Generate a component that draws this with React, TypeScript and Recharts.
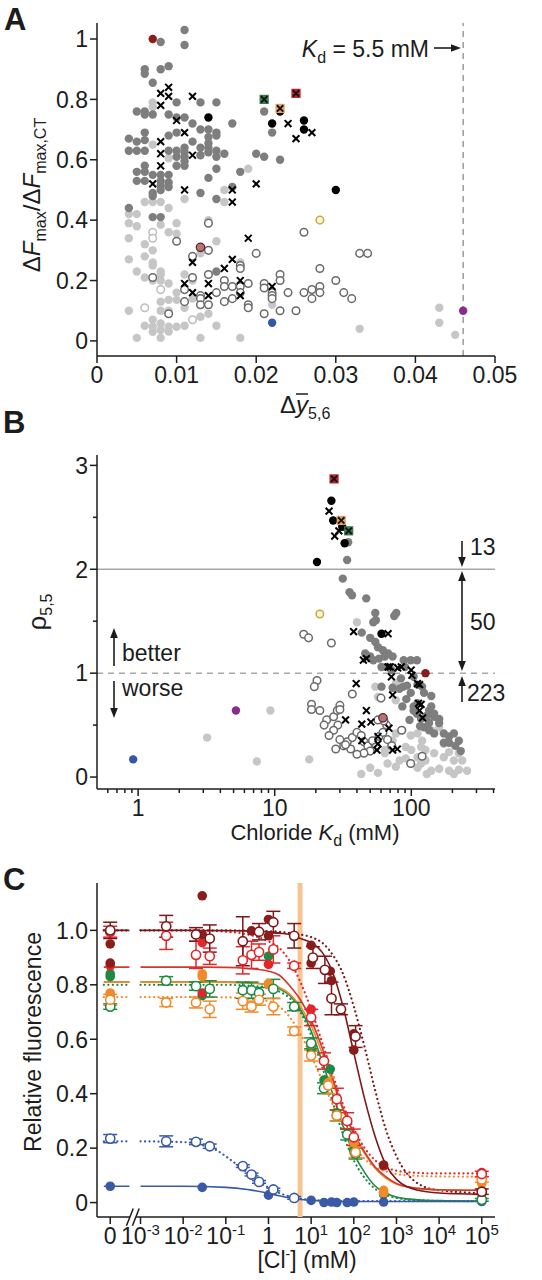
import React from 'react';
import {
  ScatterChart,
  ComposedChart,
  Scatter,
  Line,
  XAxis,
  YAxis,
  ReferenceLine,
  ErrorBar,
} from 'recharts';

// ---------- panel A: ΔFmax/ΔFmax,CT vs Δy(5,6) ----------
type XY = [number, number];

const A_DARK: XY[] = [
  [0.008, 0.99], [0.011, 1.03], [0.011, 0.98], [0.006, 0.9], [0.006, 0.885], [0.008, 0.9], [0.009, 0.91],
  [0.007, 0.855], [0.01, 0.79], [0.013, 0.79], [0.015, 0.79], [0.005, 0.76], [0.006, 0.76], [0.006, 0.75],
  [0.007, 0.75], [0.009, 0.75], [0.01, 0.74], [0.011, 0.74], [0.012, 0.72], [0.013, 0.7], [0.014, 0.7],
  [0.015, 0.69], [0.017, 0.72], [0.009, 0.68], [0.01, 0.69], [0.004, 0.67], [0.005, 0.66], [0.006, 0.69],
  [0.006, 0.665], [0.004, 0.63], [0.005, 0.63], [0.006, 0.63], [0.009, 0.63], [0.01, 0.63], [0.011, 0.64],
  [0.011, 0.625], [0.011, 0.61], [0.011, 0.595], [0.011, 0.58], [0.01, 0.61], [0.01, 0.58], [0.013, 0.615],
  [0.014, 0.675], [0.014, 0.655], [0.014, 0.64], [0.014, 0.625], [0.015, 0.63], [0.015, 0.68], [0.015, 0.61],
  [0.005, 0.56], [0.006, 0.58], [0.006, 0.56], [0.007, 0.55], [0.008, 0.55], [0.009, 0.55], [0.008, 0.53],
  [0.009, 0.525], [0.014, 0.54], [0.015, 0.57], [0.018, 0.56], [0.02, 0.62], [0.021, 0.76], [0.022, 0.69],
  [0.021, 0.61], [0.023, 0.6], [0.005, 0.53], [0.006, 0.53], [0.007, 0.49], [0.007, 0.48], [0.008, 0.515],
  [0.008, 0.5], [0.009, 0.51], [0.013, 0.49], [0.015, 0.47], [0.017, 0.51], [0.004, 0.44], [0.007, 0.41],
  [0.008, 0.41], [0.015, 0.23], [0.012, 0.66], [0.013, 0.64], [0.016, 0.62],
];
const A_LIGHT: XY[] = [
  [0.007, 0.79], [0.007, 0.775], [0.007, 0.65], [0.009, 0.605], [0.019, 0.57], [0.011, 0.47], [0.016, 0.46],
  [0.016, 0.5], [0.004, 0.42], [0.004, 0.39], [0.005, 0.42], [0.005, 0.38], [0.006, 0.46], [0.007, 0.46],
  [0.008, 0.46], [0.009, 0.44], [0.008, 0.385], [0.009, 0.36], [0.01, 0.39], [0.01, 0.355], [0.004, 0.34],
  [0.006, 0.32], [0.007, 0.3], [0.007, 0.26], [0.007, 0.25], [0.004, 0.27], [0.005, 0.23], [0.006, 0.28],
  [0.014, 0.4], [0.015, 0.33], [0.006, 0.21], [0.007, 0.2], [0.008, 0.23], [0.008, 0.22], [0.008, 0.2],
  [0.009, 0.19], [0.004, 0.1], [0.009, 0.136], [0.009, 0.1], [0.01, 0.16], [0.01, 0.136], [0.008, 0.13],
  [0.008, 0.1], [0.007, 0.07], [0.007, 0.047], [0.006, 0.05], [0.008, 0.058], [0.008, 0.036], [0.009, 0.047],
  [0.009, 0.031], [0.01, 0.047], [0.011, 0.05], [0.013, 0.08], [0.015, 0.05], [0.018, 0.01], [0.013, 0.01],
  [0.005, 0.01], [0.008, 0.01], [0.007, 0.03], [0.043, 0.11], [0.043, 0.06], [0.045, 0.02], [0.033, 0.04],
  [0.014, 0.09], [0.011, 0.11], [0.012, 0.14], [0.018, 0.26], [0.022, 0.12], [0.013, 0.29], [0.011, 0.22],
  [0.012, 0.2],
];
const A_OPEN: XY[] = [
  [0.01, 0.33], [0.014, 0.39], [0.014, 0.3], [0.012, 0.28], [0.02, 0.29], [0.018, 0.25], [0.018, 0.24],
  [0.026, 0.36], [0.028, 0.24], [0.033, 0.29], [0.034, 0.29], [0.03, 0.2], [0.028, 0.18], [0.028, 0.16],
  [0.027, 0.17], [0.027, 0.14], [0.026, 0.16], [0.024, 0.16], [0.023, 0.22], [0.023, 0.2], [0.022, 0.16],
  [0.022, 0.15], [0.022, 0.14], [0.021, 0.19], [0.021, 0.175], [0.023, 0.1], [0.025, 0.1], [0.021, 0.09],
  [0.031, 0.16], [0.032, 0.14], [0.019, 0.19], [0.019, 0.12], [0.019, 0.11], [0.018, 0.18], [0.018, 0.16],
  [0.017, 0.18], [0.017, 0.14], [0.016, 0.2], [0.016, 0.18], [0.016, 0.13], [0.015, 0.16], [0.014, 0.22],
  [0.014, 0.12], [0.011, 0.17], [0.012, 0.21], [0.011, 0.13], [0.013, 0.15], [0.013, 0.14], [0.013, 0.12],
  [0.007, 0.21], [0.009, 0.09],
];
const A_OPEN_LIGHT: XY[] = [[0.007, 0.36], [0.007, 0.34], [0.008, 0.17], [0.006, 0.11], [0.012, 0.07]];
const A_CROSS: XY[] = [
  [0.008, 0.82], [0.009, 0.84], [0.009, 0.81], [0.008, 0.78], [0.012, 0.81], [0.01, 0.73], [0.011, 0.69],
  [0.008, 0.66], [0.008, 0.62], [0.008, 0.58], [0.012, 0.615], [0.007, 0.52], [0.011, 0.5], [0.017, 0.5],
  [0.017, 0.46], [0.02, 0.52], [0.024, 0.72], [0.025, 0.67], [0.027, 0.69], [0.012, 0.26], [0.019, 0.34],
  [0.017, 0.27], [0.016, 0.24], [0.022, 0.18], [0.018, 0.2], [0.018, 0.15], [0.014, 0.19], [0.014, 0.15],
  [0.011, 0.19], [0.012, 0.16],
];
const A_BLACK: XY[] = [[0.014, 0.74], [0.022, 0.72], [0.026, 0.73], [0.026, 0.7], [0.03, 0.5], [0.023, 0.76]];
const A_DARKRED: XY[] = [[0.007, 1.0]];
const A_GREEN_X: XY[] = [[0.021, 0.8]];
const A_ORANGE_X: XY[] = [[0.023, 0.77]];
const A_RED_X: XY[] = [[0.025, 0.82]];
const A_BROWN: XY[] = [[0.013, 0.31]];
const A_YELLOW: XY[] = [[0.028, 0.4]];
const A_BLUE: XY[] = [[0.022, 0.06]];
const A_PURPLE: XY[] = [[0.046, 0.1]];
const A_XTICKS = [0, 0.01, 0.02, 0.03, 0.04, 0.05];
const A_YTICKS = [0, 0.2, 0.4, 0.6, 0.8, 1];
const A_KD_LINE = 0.046;

// ---------- panel B: ρ(5,5) vs chloride Kd ----------
const B_DARK: XY[] = [
  [34.5, 2.26], [33.9, 2.09], [31.5, 1.91], [35.3, 1.78], [36.8, 1.75], [46.8, 1.72], [54.5, 1.58],
  [52.7, 1.49], [55, 1.51], [77.6, 1.58], [75, 1.55], [43.4, 1.39], [50, 1.34], [54.5, 1.3], [57, 1.25],
  [62, 1.22], [46, 1.19], [50, 1.16], [52.7, 1.125], [58, 1.14], [64, 1.16], [67.6, 1.19], [73, 1.16],
  [60.5, 1.06], [66, 1.06], [71.5, 1.03], [88, 1.125], [90, 1.06], [99, 1.125], [110, 1.125], [104, 0.965],
  [60.5, 0.87], [73, 0.86], [82, 0.85], [87, 0.87], [93, 0.88], [99, 0.81], [111, 0.89], [120, 0.87],
  [124, 0.81], [140, 0.78], [140, 0.68], [147, 0.61], [160, 0.56], [135, 0.52], [111, 0.71], [104, 0.64],
  [97, 0.55], [124, 0.48], [147, 0.42], [173, 0.42], [189, 0.39], [205, 0.42], [223, 0.35], [230, 0.25],
  [210, 0.3], [189, 0.33], [173, 0.33], [104, 0.68], [110, 0.61], [118, 0.56], [130, 0.59], [135, 0.64],
  [147, 0.58], [160, 0.52], [135, 0.45], [116, 0.49], [84, 0.95], [92, 0.75], [86, 0.68],
];
const B_LIGHT: XY[] = [
  [40, 1.49], [54.5, 0.87], [77, 0.9], [57, 0.77], [77, 0.74], [91, 0.29], [100, 0.26], [111, 0.19],
  [118, 0.13], [127, 0.16], [147, 0.23], [173, 0.19], [189, 0.24], [205, 0.16], [223, 0.23], [236, 0.16],
  [256, 0.06], [223, 0.07], [205, 0.03], [189, 0.06], [160, 0.08], [140, 0.06], [130, 0.03], [111, 0.09],
  [99, 0.13], [91, 0.18], [82, 0.16], [77, 0.1], [67, 0.13], [57, 0.04], [50, 0.09], [43, 0.03], [64, 0.23],
  [71, 0.29], [64, 0.26], [73, 0.35], [77, 0.42], [86, 0.45], [99, 0.4], [111, 0.42], [120, 0.35], [140, 0.45],
  [160, 0.48], [127, 0.26], [118, 0.29], [173, 0.32], [3.2, 0.38], [9.3, 0.64], [7.4, 0.15], [17.9, 0.17],
];
const B_OPEN: XY[] = [
  [16.3, 1.375], [17.7, 1.34], [26, 1.29], [20.4, 0.93], [19.5, 0.87], [37, 0.8], [18.6, 0.7], [18.6, 0.65],
  [21.4, 0.64], [24, 0.55], [23, 0.5], [27, 0.58], [28.7, 0.64], [30, 0.69], [30, 0.65], [29, 0.5], [27, 0.45],
  [25, 0.4], [30, 0.36], [34, 0.34], [32, 0.3], [28, 0.27], [37, 0.38], [40, 0.43], [43, 0.4], [45, 0.34],
  [48, 0.3], [52, 0.35], [55, 0.29], [50, 0.25], [45, 0.23], [40, 0.22], [36, 0.27], [33, 0.31], [58, 0.39],
  [62, 0.43], [67, 0.36], [72, 0.3], [66, 0.5], [60, 0.76], [63, 0.54], [57, 0.55], [85, 0.45], [99, 0.13],
  [120, 0.2], [74, 1.05],
];
const B_CROSS: XY[] = [
  [25, 2.56], [29.5, 2.37], [27.5, 2.32], [37.8, 1.4], [67.6, 1.38], [44.6, 1.125], [46.9, 1.14], [67.6, 1.06],
  [70, 1.06], [71.5, 0.965], [79.5, 1.05], [84.5, 1.06], [99.7, 1.03], [101, 0.98], [111, 0.9], [115, 0.89],
  [39.5, 0.9], [73, 0.79], [113, 0.71], [118, 0.7], [115, 0.64], [121, 0.57], [46.9, 0.64], [33, 0.55],
  [43.4, 0.51], [50.6, 0.53], [68.6, 0.47], [43.4, 0.35], [57, 0.39], [57, 0.32], [56, 0.26], [73, 0.26],
  [79, 0.27],
];
const B_BLACK: XY[] = [[26, 2.66], [26.8, 2.47], [31.2, 2.41], [32.5, 2.25], [20.4, 2.07], [60.5, 1.38]];
const B_RED_X: XY[] = [[27.2, 2.87]];
const B_ORANGE_X: XY[] = [[30.7, 2.47]];
const B_GREEN_X: XY[] = [[34.8, 2.37]];
const B_DARKRED: XY[] = [[127, 1.0]];
const B_BROWN: XY[] = [[62, 0.57]];
const B_YELLOW: XY[] = [[21.4, 1.57]];
const B_BLUE: XY[] = [[0.92, 0.17]];
const B_PURPLE: XY[] = [[5.2, 0.64]];
const B_XTICKS = [0.6, 0.7, 0.8, 0.9, 1, 2, 3, 4, 5, 6, 7, 8, 9, 10, 20, 30, 40, 50, 60, 70, 80, 90, 100, 200, 300, 400];
const B_YTICKS = [0, 0.5, 1, 1.5, 2, 2.5, 3];

// ---------- panel C: relative fluorescence vs [Cl-] (mM) ----------
type CP = [number, number, number?];
const C_DARKRED_F: CP[] = [
  [0, 1.0], [0, 0.95], [0, 0.88], [0.028, 1.127], [0.028, 0.985], [0.4, 0.998], [1, 1.04], [1, 0.98],
  [10, 0.945], [10, 0.88], [28, 0.85], [30, 0.815], [100, 0.62], [100, 0.56], [500, 0.138], [100000, 0.035],
];
const C_DARKRED_O: CP[] = [
  [0, 1.0, 0.03], [0.004, 1.015, 0.04], [0.02, 0.985, 0.025], [0.042, 0.97, 0.05], [0.25, 0.96, 0.09],
  [0.6, 0.995, 0.03], [1.3, 1.03, 0.04], [4, 0.98, 0.045], [11, 0.9, 0.04], [21, 0.855, 0.05],
  [30, 0.75, 0.06], [50, 0.71, 0.02], [110, 0.61, 0.04], [100000, 0.04, 0.01],
];
const C_RED_F: CP[] = [
  [0, 0.87], [0.028, 0.955], [0.028, 0.77], [1, 0.875], [10, 0.71], [500, 0.135], [100000, 0.11],
];
const C_RED_O: CP[] = [
  [0, 0.995, 0.02], [0.004, 0.98, 0.05], [0.02, 0.91, 0.05], [0.042, 0.905, 0.03], [0.25, 0.89, 0.05],
  [0.4, 0.91, 0.05], [0.6, 0.92, 0.03], [1.3, 0.93, 0.05], [4, 0.87, 0.01], [10, 0.68, 0.03],
  [20, 0.52, 0.03], [40, 0.38, 0.04], [70, 0.3, 0.03], [100, 0.24, 0.03], [100000, 0.105, 0.01],
];
const C_ORANGE_F: CP[] = [
  [0, 0.77], [0, 0.76], [0.028, 0.84], [0.028, 0.83], [1, 0.805], [1, 0.8], [10, 0.58], [25, 0.44],
  [100, 0.23], [100, 0.22], [500, 0.045], [500, 0.035], [100000, 0.09], [100000, 0.08], [100000, 0.07],
];
const C_ORANGE_O: CP[] = [
  [0, 0.745, 0.02], [0.004, 0.735, 0.015], [0.02, 0.735, 0.02], [0.042, 0.71, 0.03], [0.25, 0.74, 0.03],
  [0.4, 0.72, 0.02], [0.6, 0.745, 0.02], [1.3, 0.72, 0.03], [4, 0.63, 0.015], [10, 0.54, 0.02],
  [25, 0.43, 0.03], [40, 0.32, 0.02], [110, 0.185, 0.02], [100000, 0.085, 0.01],
];
const C_GREEN_F: CP[] = [
  [0, 0.84], [0, 0.83], [0.028, 0.76], [1, 0.905], [10, 0.573], [10, 0.56], [20, 0.45], [28, 0.49],
  [40, 0.33], [100, 0.19], [500, 0.03], [100000, 0.015],
];
const C_GREEN_O: CP[] = [
  [0, 0.72, 0.01], [0.004, 0.815, 0.015], [0.02, 0.795, 0.015], [0.042, 0.785, 0.03], [0.25, 0.78, 0.03],
  [0.4, 0.78, 0.03], [0.6, 0.77, 0.02], [1.3, 0.785, 0.035], [4, 0.72, 0.015], [10, 0.585, 0.02],
  [20, 0.42, 0.02], [40, 0.32, 0.02], [70, 0.25, 0.02], [110, 0.18, 0.02], [100000, 0.01, 0.005],
];
const C_BLUE_F: CP[] = [
  [0, 0.06], [0.028, 0.056], [1, 0.027], [10, 0.008], [20, 0.0], [30, 0.002], [40, 0.0], [70, 0.0],
  [100, 0.002], [500, 0.002], [100000, 0.004],
];
const C_BLUE_O: CP[] = [
  [0, 0.235, 0.015], [0.004, 0.225, 0.02], [0.02, 0.223, 0.01], [0.042, 0.207, 0.008], [0.25, 0.134, 0.005],
  [0.4, 0.103, 0.005], [0.6, 0.076, 0.005], [1.3, 0.048, 0.005], [4, 0.017, 0.005],
];

// fitted curves at these chloride concentrations
const CURVE_CL = [0.001, 0.01, 0.1, 0.32, 1, 1.8, 3.2, 5.6, 10, 18, 32, 56, 100, 180, 320, 560, 1000, 3200, 10000, 100000];
const FIT_DARKRED = [1.0, 1.0, 0.999, 0.998, 0.995, 0.99, 0.985, 0.97, 0.955, 0.92, 0.845, 0.72, 0.55, 0.38, 0.24, 0.14, 0.085, 0.045, 0.035, 0.03];
const FIT_DARKRED_DOT = [1.0, 1.0, 1.0, 0.999, 0.997, 0.995, 0.99, 0.985, 0.975, 0.955, 0.91, 0.84, 0.72, 0.57, 0.41, 0.27, 0.17, 0.07, 0.045, 0.035];
const FIT_RED = [0.865, 0.865, 0.864, 0.86, 0.85, 0.835, 0.795, 0.745, 0.67, 0.57, 0.455, 0.345, 0.255, 0.185, 0.13, 0.095, 0.07, 0.052, 0.047, 0.045];
const FIT_RED_DOT = [1.0, 1.0, 0.995, 0.985, 0.96, 0.935, 0.885, 0.81, 0.71, 0.59, 0.47, 0.36, 0.27, 0.2, 0.155, 0.13, 0.117, 0.109, 0.107, 0.107];
const FIT_ORANGE = [0.81, 0.81, 0.81, 0.808, 0.8, 0.79, 0.765, 0.72, 0.65, 0.55, 0.44, 0.34, 0.25, 0.18, 0.125, 0.09, 0.068, 0.052, 0.047, 0.045];
const FIT_ORANGE_DOT = [0.755, 0.755, 0.754, 0.75, 0.74, 0.72, 0.68, 0.62, 0.54, 0.45, 0.36, 0.28, 0.21, 0.16, 0.13, 0.115, 0.105, 0.098, 0.096, 0.095];
const FIT_GREEN = [0.81, 0.81, 0.81, 0.807, 0.8, 0.785, 0.76, 0.71, 0.63, 0.52, 0.4, 0.28, 0.18, 0.11, 0.06, 0.035, 0.02, 0.01, 0.007, 0.005];
const FIT_GREEN_DOT = [0.8, 0.8, 0.8, 0.797, 0.79, 0.775, 0.75, 0.7, 0.615, 0.5, 0.37, 0.25, 0.155, 0.09, 0.05, 0.028, 0.017, 0.009, 0.006, 0.005];
const FIT_BLUE = [0.06, 0.06, 0.056, 0.048, 0.034, 0.025, 0.017, 0.011, 0.008, 0.006, 0.005, 0.004, 0.004, 0.004, 0.004, 0.004, 0.004, 0.004, 0.004, 0.004];
const BLUE_DOT_CL = [0.001, 0.01, 0.03, 0.056, 0.1, 0.18, 0.32, 0.56, 1, 1.8, 3.2, 10, 100, 100000];
const FIT_BLUE_DOT = [0.225, 0.222, 0.21, 0.195, 0.17, 0.14, 0.11, 0.08, 0.055, 0.035, 0.022, 0.01, 0.005, 0.005];
const C_XTICKS = [0, 0.001, 0.01, 0.1, 1, 10, 100, 1000, 10000, 100000];
const C_YTICKS = [0, 0.2, 0.4, 0.6, 0.8, 1.0];
const KD_CL = 5.5;

// ---------- drawing helpers ----------
const FONT = '"Liberation Sans", Arial, Helvetica, sans-serif';
const INK = '#1c1c1c';
const DARK = '#7e7e7e';
const LIGHT = '#c6c6c6';
const DKRED = '#7d1719';
const RED = '#e3262b';
const ORANGE = '#f08a2a';
const GREEN = '#1f8a45';
const BLUE = '#3a5aa6';
const ZERO_POS = -3.71; // where "0 mM" sits on the broken log axis

const xy = (a: XY[]) => a.map(([x, y]) => ({ x, y }));
const xPos = (c: number) => (c === 0 ? ZERO_POS : Math.log10(c));
const cpts = (a: CP[]) => a.map(([c, y, e]) => ({ x: xPos(c), y, e: e ?? 0 }));
const curve = (cl: number[], vals: number[]) => [
  { x: ZERO_POS - 0.15, y: vals[0] },
  { x: ZERO_POS + 0.45, y: vals[0] },
  { x: -3.1, y: null },
  ...cl.map((c, i) => ({ x: Math.log10(c), y: vals[i] })),
];

const dot = (fill: string, stroke = 'none', r = 4.2, sw = 1.3) => (p: any) => (
  <circle cx={p.cx} cy={p.cy} r={r} fill={fill} stroke={stroke} strokeWidth={sw} />
);
const cross = (p: any) => {
  const s = 3.4;
  return (
    <g stroke="#000" strokeWidth={2}>
      <line x1={p.cx - s} y1={p.cy - s} x2={p.cx + s} y2={p.cy + s} />
      <line x1={p.cx - s} y1={p.cy + s} x2={p.cx + s} y2={p.cy - s} />
    </g>
  );
};
const boxCross = (fill: string) => (p: any) => {
  const s = 3.2;
  return (
    <g>
      <rect x={p.cx - 4.6} y={p.cy - 4.6} width={9.2} height={9.2} fill={fill} />
      <g stroke="#111" strokeWidth={1.8}>
        <line x1={p.cx - s} y1={p.cy - s} x2={p.cx + s} y2={p.cy + s} />
        <line x1={p.cx - s} y1={p.cy + s} x2={p.cx + s} y2={p.cy - s} />
      </g>
    </g>
  );
};

const fmtDec = (v: number) => (v === 0 ? '0' : v === 1 ? '1' : String(v));

const leftTick = (fmt: (v: number) => string, isMinor: (v: number) => boolean = () => false) => (props: any) => {
  const { x, y, payload } = props;
  const minor = isMinor(payload.value);
  return (
    <g>
      <line x1={x - (minor ? 4 : 7)} x2={x} y1={y} y2={y} stroke={INK} strokeWidth={1.5} />
      {!minor && (
        <text x={x - 9} y={y} dy="0.36em" textAnchor="end" fontSize={23} fontFamily={FONT} fill={INK}>
          {fmt(payload.value)}
        </text>
      )}
    </g>
  );
};

const bottomTick = (fmt: (v: number) => React.ReactNode, isMinor: (v: number) => boolean = () => false) => (props: any) => {
  const { x, y, payload } = props;
  const minor = isMinor(payload.value);
  return (
    <g>
      <line x1={x} x2={x} y1={y} y2={y + (minor ? 4 : 7)} stroke={INK} strokeWidth={1.5} />
      {!minor && (
        <text x={x} y={y + 27} textAnchor="middle" fontSize={23} fontFamily={FONT} fill={INK}>
          {fmt(payload.value)}
        </text>
      )}
    </g>
  );
};

const cTickLabel = (v: number) => {
  const p = xPos(v);
  if (v === 0) return '0';
  if (p === 0) return '1';
  return (
    <>
      10
      <tspan dy={-9} fontSize={15}>{p < 0 ? '-' + String(-p) : String(p)}</tspan>
    </>
  );
};

const Arrow = ({ x1, y1, x2, y2 }: { x1: number; y1: number; x2: number; y2: number }) => {
  const dx = x2 - x1;
  const dy = y2 - y1;
  const L = Math.hypot(dx, dy);
  const ux = dx / L;
  const uy = dy / L;
  const bx = x2 - ux * 10;
  const by = y2 - uy * 10;
  const w = 3.8;
  return (
    <g>
      <line x1={x1} y1={y1} x2={bx} y2={by} stroke={INK} strokeWidth={1.6} />
      <polygon points={`${x2},${y2} ${bx - uy * w},${by + ux * w} ${bx + uy * w},${by - ux * w}`} fill={INK} />
    </g>
  );
};

const axisStyle = { stroke: INK, strokeWidth: 1.5 };

function PanelA() {
  return (
    <ScatterChart width={542} height={396} margin={{ top: 23, right: 47, bottom: 0, left: 0 }}>
      <XAxis
        type="number"
        dataKey="x"
        domain={[0, 0.05]}
        allowDataOverflow
        ticks={A_XTICKS}
        interval={0}
        height={40}
        tickSize={0}
        tickMargin={0}
        axisLine={axisStyle}
        tickLine={false}
        tick={bottomTick((v) => (v === 0 ? '0' : v.toFixed(2)))}
      />
      <YAxis
        type="number"
        dataKey="y"
        domain={[-0.05, 1.053]}
        allowDataOverflow
        ticks={A_YTICKS}
        interval={0}
        width={97}
        tickSize={0}
        tickMargin={0}
        axisLine={axisStyle}
        tickLine={false}
        tick={leftTick(fmtDec)}
      />
      <ReferenceLine x={A_KD_LINE} stroke="#9a9a9a" strokeWidth={1.5} strokeDasharray="6 5" />
      <Scatter data={xy(A_LIGHT)} shape={dot(LIGHT)} isAnimationActive={false} />
      <Scatter data={xy(A_OPEN_LIGHT)} shape={dot('#fff', '#bdbdbd', 3.8, 1.5)} isAnimationActive={false} />
      <Scatter data={xy(A_OPEN)} shape={dot('#fff', '#6a6a6a', 3.8, 1.5)} isAnimationActive={false} />
      <Scatter data={xy(A_DARK)} shape={dot(DARK)} isAnimationActive={false} />
      <Scatter data={xy(A_BLACK)} shape={dot('#000')} isAnimationActive={false} />
      <Scatter data={xy(A_CROSS)} shape={cross} isAnimationActive={false} />
      <Scatter data={xy(A_DARKRED)} shape={dot('#8a1c1c')} isAnimationActive={false} />
      <Scatter data={xy(A_BROWN)} shape={dot('#b87474', '#5a2a2a', 4.2, 1.3)} isAnimationActive={false} />
      <Scatter data={xy(A_YELLOW)} shape={dot('#fbf6d8', '#c9a73c', 3.8, 1.5)} isAnimationActive={false} />
      <Scatter data={xy(A_BLUE)} shape={dot('#3457a5')} isAnimationActive={false} />
      <Scatter data={xy(A_PURPLE)} shape={dot('#8c2a8c')} isAnimationActive={false} />
      <Scatter data={xy(A_GREEN_X)} shape={boxCross('#3a7a4c')} isAnimationActive={false} />
      <Scatter data={xy(A_ORANGE_X)} shape={boxCross('#e6a263')} isAnimationActive={false} />
      <Scatter data={xy(A_RED_X)} shape={boxCross('#b3272b')} isAnimationActive={false} />
    </ScatterChart>
  );
}

function PanelB() {
  return (
    <ScatterChart width={542} height={397} margin={{ top: 23, right: 47, bottom: 0, left: 0 }}>
      <XAxis
        type="number"
        dataKey="x"
        scale="log"
        domain={[0.5, 410]}
        allowDataOverflow
        ticks={B_XTICKS}
        interval={0}
        height={40}
        tickSize={0}
        tickMargin={0}
        axisLine={axisStyle}
        tickLine={false}
        tick={bottomTick((v) => String(v), (v) => ![1, 10, 100].includes(v))}
      />
      <YAxis
        type="number"
        dataKey="y"
        domain={[-0.115, 3.1]}
        allowDataOverflow
        ticks={B_YTICKS}
        interval={0}
        width={97}
        tickSize={0}
        tickMargin={0}
        axisLine={axisStyle}
        tickLine={false}
        tick={leftTick((v) => String(v), (v) => !Number.isInteger(v))}
      />
      <ReferenceLine y={2} stroke="#a8a8a8" strokeWidth={1.5} />
      <ReferenceLine y={1} stroke="#a8a8a8" strokeWidth={1.5} strokeDasharray="6 5" />
      <Scatter data={xy(B_LIGHT)} shape={dot(LIGHT)} isAnimationActive={false} />
      <Scatter data={xy(B_OPEN)} shape={dot('#fff', '#6a6a6a', 3.8, 1.5)} isAnimationActive={false} />
      <Scatter data={xy(B_DARK)} shape={dot(DARK)} isAnimationActive={false} />
      <Scatter data={xy(B_BLACK)} shape={dot('#000')} isAnimationActive={false} />
      <Scatter data={xy(B_CROSS)} shape={cross} isAnimationActive={false} />
      <Scatter data={xy(B_DARKRED)} shape={dot('#8a1c1c')} isAnimationActive={false} />
      <Scatter data={xy(B_BROWN)} shape={dot('#b87474', '#5a2a2a', 4.2, 1.3)} isAnimationActive={false} />
      <Scatter data={xy(B_YELLOW)} shape={dot('#fbf6d8', '#c9a73c', 3.8, 1.5)} isAnimationActive={false} />
      <Scatter data={xy(B_BLUE)} shape={dot('#3457a5')} isAnimationActive={false} />
      <Scatter data={xy(B_PURPLE)} shape={dot('#8c2a8c')} isAnimationActive={false} />
      <Scatter data={xy(B_GREEN_X)} shape={boxCross('#3a7a4c')} isAnimationActive={false} />
      <Scatter data={xy(B_ORANGE_X)} shape={boxCross('#e6a263')} isAnimationActive={false} />
      <Scatter data={xy(B_RED_X)} shape={boxCross('#b3272b')} isAnimationActive={false} />
    </ScatterChart>
  );
}

const fitLine = (data: any[], color: string, dotted: boolean) => (
  <Line
    data={data}
    dataKey="y"
    type="monotone"
    stroke={color}
    strokeWidth={dotted ? 2.2 : 1.6}
    strokeDasharray={dotted ? '0.1 4.4' : undefined}
    strokeLinecap={dotted ? 'round' : 'butt'}
    dot={false}
    activeDot={false}
    connectNulls={false}
    isAnimationActive={false}
  />
);

const openSeries = (data: CP[], color: string) => (
  <Scatter data={cpts(data)} dataKey="y" shape={dot('#fff', color, 4.6, 1.6)} isAnimationActive={false}>
    <ErrorBar dataKey="e" direction="y" width={7} stroke={color} strokeWidth={1.5} />
  </Scatter>
);
const filledSeries = (data: CP[], color: string) => (
  <Scatter data={cpts(data)} dataKey="y" shape={dot(color, 'none', 4.8)} isAnimationActive={false} />
);

function PanelC() {
  const yAxisBottom = -0.053;
  return (
    <ComposedChart width={542} height={402} margin={{ top: 23, right: 47, bottom: 0, left: 0 }}>
      <XAxis
        type="number"
        dataKey="x"
        domain={[-4.02, 5.31]}
        allowDataOverflow
        ticks={C_XTICKS.map(xPos)}
        interval={0}
        height={45}
        tickSize={0}
        tickMargin={0}
        axisLine={false}
        tickLine={false}
        tick={bottomTick((p) => cTickLabel(C_XTICKS[C_XTICKS.map(xPos).indexOf(p)]))}
      />
      <YAxis
        type="number"
        dataKey="y"
        domain={[yAxisBottom, 1.174]}
        allowDataOverflow
        ticks={C_YTICKS}
        interval={0}
        width={97}
        tickSize={0}
        tickMargin={0}
        axisLine={axisStyle}
        tickLine={false}
        tick={leftTick((v) => (v === 0 ? '0' : v.toFixed(1)))}
      />
      {/* broken x axis line */}
      <ReferenceLine segment={[{ x: -4.02, y: yAxisBottom }, { x: -3.24, y: yAxisBottom }]} stroke={INK} strokeWidth={1.5} ifOverflow="visible" />
      <ReferenceLine segment={[{ x: -3.1, y: yAxisBottom }, { x: 5.31, y: yAxisBottom }]} stroke={INK} strokeWidth={1.5} ifOverflow="visible" />
      <ReferenceLine segment={[{ x: -3.33, y: -0.085 }, { x: -3.17, y: -0.022 }]} stroke={INK} strokeWidth={1.5} ifOverflow="visible" />
      <ReferenceLine segment={[{ x: -3.19, y: -0.085 }, { x: -3.03, y: -0.022 }]} stroke={INK} strokeWidth={1.5} ifOverflow="visible" />
      <ReferenceLine x={Math.log10(KD_CL)} stroke="#f7c594" strokeWidth={5} />
      {fitLine(curve(CURVE_CL, FIT_GREEN_DOT), GREEN, true)}
      {fitLine(curve(CURVE_CL, FIT_ORANGE_DOT), ORANGE, true)}
      {fitLine(curve(CURVE_CL, FIT_RED_DOT), RED, true)}
      {fitLine(curve(CURVE_CL, FIT_DARKRED_DOT), DKRED, true)}
      {fitLine(curve(BLUE_DOT_CL, FIT_BLUE_DOT), BLUE, true)}
      {fitLine(curve(CURVE_CL, FIT_GREEN), GREEN, false)}
      {fitLine(curve(CURVE_CL, FIT_ORANGE), ORANGE, false)}
      {fitLine(curve(CURVE_CL, FIT_RED), '#cf3a2c', false)}
      {fitLine(curve(CURVE_CL, FIT_DARKRED), DKRED, false)}
      {fitLine(curve(CURVE_CL, FIT_BLUE), BLUE, false)}
      {filledSeries(C_GREEN_F, GREEN)}
      {filledSeries(C_ORANGE_F, ORANGE)}
      {filledSeries(C_RED_F, RED)}
      {filledSeries(C_DARKRED_F, '#8a1c1c')}
      {filledSeries(C_BLUE_F, BLUE)}
      {openSeries(C_GREEN_O, GREEN)}
      {openSeries(C_ORANGE_O, ORANGE)}
      {openSeries(C_RED_O, RED)}
      {openSeries(C_DARKRED_O, DKRED)}
      {openSeries(C_BLUE_O, BLUE)}
    </ComposedChart>
  );
}

function Annotations() {
  const sub = { fontSize: 16 };
  return (
    <svg
      width={542}
      height={1280}
      style={{ position: 'absolute', left: 0, top: 0, pointerEvents: 'none' }}
      fontFamily={FONT}
      fill={INK}
    >
      {/* panel letters */}
      <text x={4} y={30} fontSize={31} fontWeight="bold">A</text>
      <text x={3} y={433} fontSize={31} fontWeight="bold">B</text>
      <text x={3} y={890} fontSize={31} fontWeight="bold">C</text>

      {/* panel A labels */}
      <text x={40} y={195} fontSize={24} textAnchor="middle" transform="rotate(-90 40 195)">
        Δ<tspan fontStyle="italic">F</tspan>
        <tspan {...sub} dy={6}>max</tspan>
        <tspan dy={-6}>/Δ</tspan>
        <tspan fontStyle="italic">F</tspan>
        <tspan {...sub} dy={6}>max,CT</tspan>
      </text>
      <text x={280} y={413} fontSize={24}>
        Δ<tspan fontStyle="italic">y</tspan>
        <tspan {...sub} dy={6}>5,6</tspan>
      </text>
      <line x1={296} x2={308} y1={394} y2={394} stroke={INK} strokeWidth={1.5} />
      <text x={429} y={57} fontSize={23} textAnchor="end">
        <tspan fontStyle="italic">K</tspan>
        <tspan {...sub} dy={6}>d</tspan>
        <tspan dy={-6}> = 5.5 mM</tspan>
      </text>
      <Arrow x1={434} y1={48} x2={461} y2={48} />

      {/* panel B labels */}
      <text x={46} y={612} fontSize={26} textAnchor="middle" transform="rotate(-90 46 612)">
        ρ<tspan fontSize={16} dy={6}>5,5</tspan>
      </text>
      <text x={315} y={840} fontSize={22} textAnchor="middle">
        Chloride <tspan fontStyle="italic">K</tspan>
        <tspan {...sub} dy={6}>d</tspan>
        <tspan dy={-6}> (mM)</tspan>
      </text>
      <Arrow x1={114} y1={666} x2={114} y2={628} />
      <Arrow x1={114} y1={681} x2={114} y2={718} />
      <text x={122} y={661} fontSize={23}>better</text>
      <text x={122} y={696} fontSize={23}>worse</text>
      <Arrow x1={462} y1={541} x2={462} y2={567} />
      <text x={470} y={555} fontSize={23}>13</text>
      <Arrow x1={462} y1={620} x2={462} y2={571} />
      <Arrow x1={462} y1={620} x2={462} y2={671} />
      <text x={470} y={630} fontSize={23}>50</text>
      <Arrow x1={462} y1={702} x2={462} y2={676} />
      <text x={467} y={701} fontSize={23}>223</text>

      {/* panel C labels */}
      <text x={41} y={1042} fontSize={23} textAnchor="middle" transform="rotate(-90 41 1042)">
        Relative fluorescence
      </text>
      <text x={307} y={1268} fontSize={23} textAnchor="middle">
        [Cl<tspan fontSize={14} dy={-9}>-</tspan>
        <tspan dy={9}>] (mM)</tspan>
      </text>
    </svg>
  );
}

export default function App() {
  return (
    <div style={{ position: 'absolute', left: 0, top: 0, width: 542, height: 1280, background: '#fff', fontFamily: FONT }}>
      <div style={{ position: 'absolute', left: 0, top: 0 }}>
        <PanelA />
      </div>
      <div style={{ position: 'absolute', left: 0, top: 432 }}>
        <PanelB />
      </div>
      <div style={{ position: 'absolute', left: 0, top: 860 }}>
        <PanelC />
      </div>
      <Annotations />
    </div>
  );
}
